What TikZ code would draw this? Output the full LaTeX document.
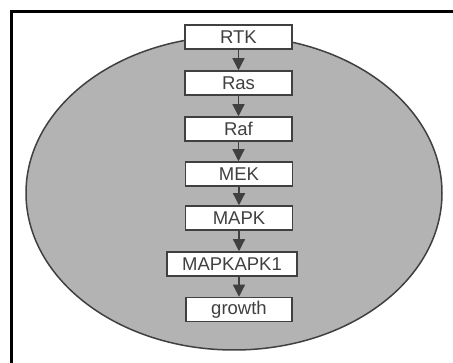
\documentclass[tikz,border=0pt]{standalone}
\usepackage{fontspec}
\setmainfont{Liberation Sans}
\usetikzlibrary{arrows.meta}
\definecolor{dk}{HTML}{404040}
\definecolor{cell}{HTML}{B3B3B3}
\begin{document}
\begin{tikzpicture}[x=1pt,y=-1pt,
  pbox/.style={draw=dk,line width=1.5pt,fill=white,minimum width=107pt,minimum height=24pt,inner sep=0pt,text=dk,font=\fontsize{18.5}{18.5}\selectfont},
  parrow/.style={draw=dk,line width=1.2pt,-{Triangle[width=12pt,length=12pt]}}]
\useasboundingbox (0,0) rectangle (453,363);
\draw[line width=3pt] (11.5,380) -- (11.5,11.5) -- (470,11.5);
\draw[dk,line width=1.5pt,fill=cell] (234,193) ellipse [x radius=208,y radius=157];
\node[pbox] (rtk) at (238.5,37) {RTK};
\node[pbox] (ras) at (238.5,83) {Ras};
\node[pbox] (raf) at (238.5,129) {Raf};
\node[pbox] (mek) at (239,174) {MEK};
\node[pbox] (mapk) at (239,218) {MAPK};
\node[pbox,minimum width=130pt] (mk1) at (232,264) {MAPKAPK1};
\node[pbox,minimum width=106pt] (gr) at (239,309.5) {growth};
\draw[parrow] (rtk.south) -- (ras.north);
\draw[parrow] (ras.south) -- (raf.north);
\draw[parrow] (raf.south) -- (raf.south |- mek.north);
\draw[parrow] (mek.south) -- (mapk.north);
\draw[parrow] (mapk.south) -- (mapk.south |- mk1.north);
\draw[parrow] (gr.north |- mk1.south) -- (gr.north);
\end{tikzpicture}
\end{document}
